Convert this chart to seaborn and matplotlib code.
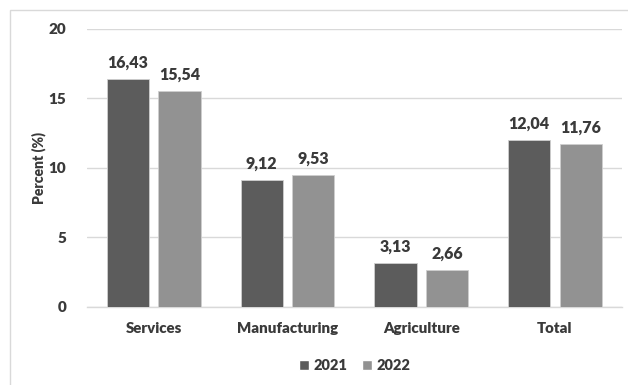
import matplotlib
matplotlib.use("Agg")
import matplotlib.pyplot as plt
from matplotlib.patches import Rectangle
import seaborn as sns
import pandas as pd

categories = ["Services", "Manufacturing", "Agriculture", "Total"]
years = ["2021", "2022"]
values_2021 = [16.43, 9.12, 3.13, 12.04]
values_2022 = [15.54, 9.53, 2.66, 11.76]
y_ticks = [0, 5, 10, 15, 20]

df = pd.DataFrame({
    "Sector": categories * 2,
    "Year": [years[0]] * len(categories) + [years[1]] * len(categories),
    "Percent": values_2021 + values_2022,
})

sns.set_theme(style="white")
plt.rcParams["font.family"] = ["Lato", "DejaVu Sans"]
text_color = "#3a3a3a"
palette = {"2021": "#5c5c5c", "2022": "#929292"}

fig = plt.figure(figsize=(6.28, 3.85), dpi=100)
ax = fig.add_axes([0.1385, 0.2026, 0.990 - 0.1385, 0.9247 - 0.2026])

# outer frame of the chart
fig.patches.append(Rectangle((10 / 628, -0.01), 1.0, 1 - 9.5 / 385 + 0.01,
                             transform=fig.transFigure, fill=False,
                             edgecolor="#d9d9d9", linewidth=1.0, zorder=0))

sns.barplot(data=df, x="Sector", y="Percent", hue="Year", order=categories,
            hue_order=years, palette=palette, width=0.77, gap=0.18,
            saturation=1, ax=ax, zorder=3)

for container in ax.containers:
    for bar in container:
        bar.set_edgecolor("#cfcfcf")
        bar.set_linewidth(0.6)
    labels = [f"{v:.2f}".replace(".", ",") for v in container.datavalues]
    ax.bar_label(container, labels=labels, padding=6, fontsize=11.5,
                 fontweight="heavy", color=text_color)

ax.set_xlim(-0.5, 3.5)
ax.set_ylim(0, 20)
ax.set_yticks(y_ticks)
ax.set_yticklabels([str(t) for t in y_ticks], fontsize=11,
                   fontweight="heavy", color=text_color)
ax.tick_params(axis="y", length=0, pad=15)
ax.tick_params(axis="x", length=0, pad=11)
for lab in ax.get_xticklabels():
    lab.set_fontsize(10.8)
    lab.set_fontweight("heavy")
    lab.set_color(text_color)

ax.yaxis.grid(True, color="#d9d9d9", linewidth=1.0, zorder=0)
ax.set_axisbelow(True)
for side in ["top", "right", "left"]:
    ax.spines[side].set_visible(False)
ax.spines["bottom"].set_color("#d9d9d9")
ax.spines["bottom"].set_linewidth(1.0)

ax.set_xlabel("")
ax.set_ylabel("Percent (%)", fontsize=10, fontweight="heavy",
              color=text_color, labelpad=2)

leg = ax.legend(loc="upper center", bbox_to_anchor=(0.5, -0.14), ncol=2,
                frameon=False, fontsize=10.5, handlelength=0.7,
                handleheight=0.7, handletextpad=0.3, columnspacing=1.0)
for t in leg.get_texts():
    t.set_fontweight("heavy")
    t.set_color(text_color)

fig.savefig("out.png", dpi=100)
